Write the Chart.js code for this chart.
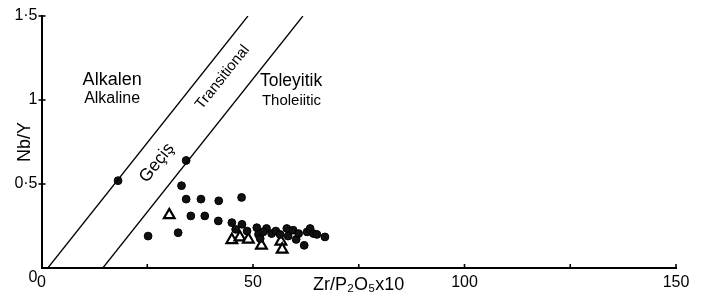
<!DOCTYPE html>
<html>
<head>
<meta charset="utf-8">
<script src="https://cdn.jsdelivr.net/npm/chart.js@4/dist/chart.umd.min.js"></script>
<style>
  html, body { margin: 0; padding: 0; background: #fff; }
  #wrap { width: 708px; height: 303px; }
</style>
</head>
<body>
<div id="wrap"><canvas id="c" width="708" height="303"></canvas></div>
<script>
// ---- Data ----
const xTickValues = [0, 25, 50, 75, 100, 125, 150];
const xTickLabels = ['0', '', '50', '', '100', '', '150'];
const yTickValues = [0, 0.5, 1, 1.5];
const yTickLabels = ['0', '0·5', '1', '1·5'];

// Filled circles: Zr/P2O5x10 and Nb/Y
const dotX = [18.1, 34.2, 25.2, 32.3, 33.1, 34.2, 37.7, 41.9, 47.3, 35.3, 38.6, 41.8, 45.0, 47.4, 45.9, 48.6, 50.9, 51.3, 51.7, 53.2, 54.4, 55.4, 56.4, 58.0, 58.3, 59.5, 60.2, 60.8, 62.1, 62.8, 63.5, 64.3, 65.1, 67.0, 52.4];
const dotY = [0.52, 0.64, 0.19, 0.21, 0.49, 0.41, 0.41, 0.40, 0.42, 0.31, 0.31, 0.28, 0.27, 0.26, 0.23, 0.22, 0.24, 0.20, 0.175, 0.235, 0.205, 0.22, 0.20, 0.235, 0.19, 0.225, 0.17, 0.205, 0.135, 0.215, 0.235, 0.205, 0.20, 0.185, 0.215];

// Open triangles
const triX = [30.2, 45.0, 46.9, 48.9, 52.0, 56.6, 56.9];
const triY = [0.315, 0.167, 0.183, 0.17, 0.134, 0.158, 0.11];

// Discrimination boundary lines (start on x-axis, end at Nb/Y = 1.5)
const boundary1X = [1.5, 48.8];
const boundary1Y = [0, 1.5];
const boundary2X = [14.5, 61.8];
const boundary2Y = [0, 1.5];

// Field labels
const fieldLabels = [
  { text: 'Alkalen', x: 16.7, y: 1.12, size: 18, weight: '500' },
  { text: 'Alkaline', x: 16.7, y: 1.01, size: 16, weight: 'normal' },
  { text: 'Toleyitik', x: 59.0, y: 1.11, size: 17.5, weight: '500' },
  { text: 'Tholeiitic', x: 59.1, y: 0.995, size: 15, weight: 'normal' }
];
const rotatedLabels = [
  { text: 'Geçiş', x: 27.3, y: 0.625, size: 17.5 },
  { text: 'Transitional', x: 42.8, y: 1.135, size: 15 }
];

const toPts = (xs, ys) => xs.map((x, i) => ({ x: x, y: ys[i] }));
const FONT = "'Liberation Sans', 'DejaVu Sans', Arial, sans-serif";

const decor = {
  id: 'decor',
  afterDraw(chart) {
    const ctx = chart.ctx;
    const xs = chart.scales.x, ys = chart.scales.y;
    const x0 = xs.getPixelForValue(0), y0 = ys.getPixelForValue(0);
    ctx.save();
    ctx.strokeStyle = '#000';
    ctx.lineWidth = 1.6;
    // x ticks pointing up
    xTickValues.forEach(v => {
      if (v === 0) return;
      const px = xs.getPixelForValue(v);
      ctx.beginPath(); ctx.moveTo(px, y0); ctx.lineTo(px, y0 - 4); ctx.stroke();
    });
    // y ticks crossing axis
    yTickValues.forEach(v => {
      if (v === 0) return;
      const py = ys.getPixelForValue(v);
      ctx.beginPath(); ctx.moveTo(x0 - 3, py); ctx.lineTo(x0 + 4, py); ctx.stroke();
    });
    // field labels
    ctx.fillStyle = '#000';
    ctx.textAlign = 'center';
    ctx.textBaseline = 'middle';
    fieldLabels.forEach(l => {
      ctx.font = l.weight + ' ' + l.size + 'px ' + FONT;
      ctx.fillText(l.text, xs.getPixelForValue(l.x), ys.getPixelForValue(l.y));
    });
    // rotated labels along the boundary lines
    const ang = Math.atan2(
      ys.getPixelForValue(boundary1Y[1]) - ys.getPixelForValue(boundary1Y[0]),
      xs.getPixelForValue(boundary1X[1]) - xs.getPixelForValue(boundary1X[0]));
    rotatedLabels.forEach(l => {
      ctx.save();
      ctx.translate(xs.getPixelForValue(l.x), ys.getPixelForValue(l.y));
      ctx.rotate(ang);
      ctx.font = l.size + 'px ' + FONT;
      ctx.fillText(l.text, 0, 0);
      ctx.restore();
    });
    ctx.restore();
  }
};

new Chart(document.getElementById('c'), {
  type: 'scatter',
  data: {
    datasets: [
      { label: 'Boundary 1', type: 'line', data: toPts(boundary1X, boundary1Y),
        borderColor: '#000', borderWidth: 1.3, pointRadius: 0, fill: false, showLine: true },
      { label: 'Boundary 2', type: 'line', data: toPts(boundary2X, boundary2Y),
        borderColor: '#000', borderWidth: 1.3, pointRadius: 0, fill: false, showLine: true },
      { label: 'Samples (dots)', data: toPts(dotX, dotY), pointStyle: 'circle',
        pointRadius: 3.9, backgroundColor: '#111', borderColor: '#000', borderWidth: 1 },
      { label: 'Samples (triangles)', data: toPts(triX, triY), pointStyle: 'triangle',
        pointRadius: 6.2, backgroundColor: '#fff', borderColor: '#000', borderWidth: 2.2 }
    ]
  },
  options: {
    responsive: false,
    animation: false,
    layout: { padding: { top: 16, right: 32, left: 0, bottom: 0 } },
    plugins: { legend: { display: false }, tooltip: { enabled: false } },
    scales: {
      x: {
        type: 'linear', min: 0, max: 150,
        afterFit(s) { s.height = 35; },
        afterBuildTicks(s) { s.ticks = xTickValues.map(v => ({ value: v })); },
        ticks: {
          autoSkip: false, maxRotation: 0, padding: 5, color: '#000',
          font: { family: FONT, size: 16 },
          callback: (v) => { const i = xTickValues.indexOf(v); return i >= 0 ? xTickLabels[i] : ''; }
        },
        grid: { display: false, drawTicks: false },
        border: { display: true, color: '#000', width: 2 },
        title: { display: true, text: 'Zr/P₂O₅x10', color: '#000',
          font: { family: FONT, size: 18 }, padding: { top: 0, bottom: 7 } }
      },
      y: {
        type: 'linear', min: 0, max: 1.5,
        afterFit(s) { s.width = 41.5; },
        afterBuildTicks(s) { s.ticks = yTickValues.map(v => ({ value: v })); },
        ticks: {
          autoSkip: false, padding: 4, color: '#000',
          font: { family: FONT, size: 16 },
          callback: (v) => { const i = yTickValues.indexOf(v); if (i < 0) return ''; return v === 0 ? ['', yTickLabels[i]] : yTickLabels[i]; }
        },
        grid: { display: false, drawTicks: false },
        border: { display: true, color: '#000', width: 2 },
        title: { display: true, text: 'Nb/Y', color: '#000',
          font: { family: FONT, size: 18, weight: '500' }, padding: { top: 14, bottom: 0 } }
      }
    }
  },
  plugins: [decor]
});
</script>
</body>
</html>
